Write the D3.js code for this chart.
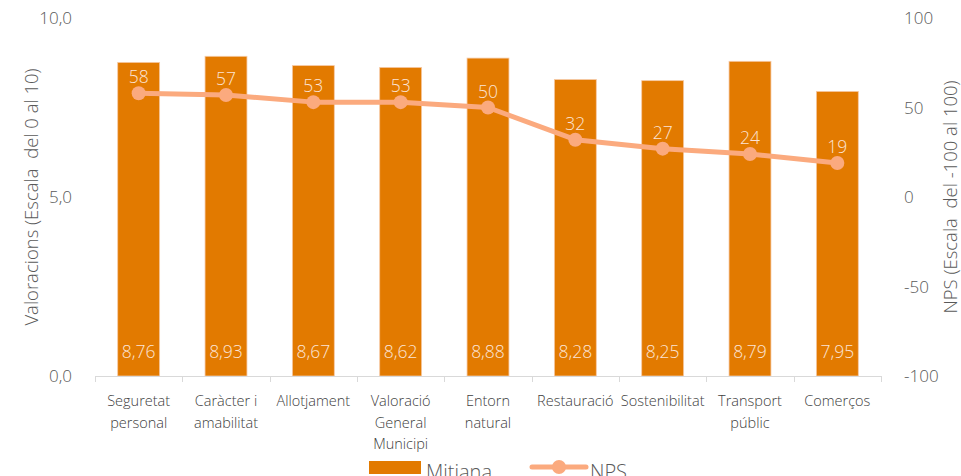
<!doctype html>
<html>
<head>
<meta charset="utf-8">
<script src="https://cdnjs.cloudflare.com/ajax/libs/d3/7.8.5/d3.min.js"></script>
<style>
  body { margin: 0; background: #fff; }
  svg { font-family: "Open Sans", "Noto Sans", sans-serif; font-weight: 300; }
</style>
</head>
<body>
<svg id="chart" width="961" height="476"></svg>
<script>
// data
var categories = [
  ["Seguretat", "personal"],
  ["Caràcter i", "amabilitat"],
  ["Allotjament"],
  ["Valoració", "General", "Municipi"],
  ["Entorn", "natural"],
  ["Restauració"],
  ["Sostenibilitat"],
  ["Transport", "públic"],
  ["Comerços"]
];
var mitjana = [8.76, 8.93, 8.67, 8.62, 8.88, 8.28, 8.25, 8.79, 7.95];
var nps = [58, 57, 53, 53, 50, 32, 27, 24, 19];
var leftTicks = [0, 5, 10];
var rightTicks = [-100, -50, 0, 50, 100];

var barColor = "#E27A00", lineColor = "#FBAA7E", labelColor = "#FCE4D6", textColor = "#595959";

var svg = d3.select("#chart");
var pL = 95, pR = 881, pT = 18, pB = 376;

var x = d3.scaleBand().domain(d3.range(categories.length)).range([pL, pR]).paddingInner(0.52).paddingOuter(0.26);
var yL = d3.scaleLinear().domain([0, 10]).range([pB, pT]);
var yR = d3.scaleLinear().domain([-100, 100]).range([pB, pT]);
var band = (pR - pL) / categories.length;
var cx = i => x(i) + x.bandwidth() / 2;

// bars
svg.selectAll("rect.bar").data(mitjana).enter().append("rect")
  .attr("class", "bar")
  .attr("x", (d, i) => x(i))
  .attr("width", x.bandwidth())
  .attr("y", d => yL(d))
  .attr("height", d => yL(0) - yL(d))
  .attr("fill", barColor)
  .attr("stroke", "#F6C9A4").attr("stroke-width", 0.8);

// bar value labels
svg.selectAll("text.barval").data(mitjana).enter().append("text")
  .attr("x", (d, i) => cx(i))
  .attr("y", yL(0) - 18)
  .attr("text-anchor", "middle")
  .attr("font-size", 17.5)
  .attr("fill", labelColor)
  .text(d => d.toFixed(2).replace(".", ","));

// x axis
svg.append("line").attr("x1", pL).attr("x2", pR).attr("y1", pB + 0.5).attr("y2", pB + 0.5)
  .attr("stroke", "#D9D9D9").attr("stroke-width", 1);
svg.selectAll("line.xt").data(d3.range(categories.length + 1)).enter().append("line")
  .attr("x1", i => Math.round(pL + i * band) + 0.5).attr("x2", i => Math.round(pL + i * band) + 0.5)
  .attr("y1", pB).attr("y2", pB + 6)
  .attr("stroke", "#D9D9D9");

var catLabels = svg.selectAll("text.cat").data(categories).enter().append("text")
  .attr("text-anchor", "middle")
  .attr("font-size", 14.5)
  .attr("fill", "#404040");
catLabels.each(function(lines, i) {
  var t = d3.select(this);
  lines.forEach(function(s, j) {
    t.append("tspan").attr("x", cx(i)).attr("y", 406 + j * 21.5).text(s);
  });
});

// left axis labels
svg.selectAll("text.lt").data(leftTicks).enter().append("text")
  .attr("x", 72).attr("y", d => yL(d) + 6)
  .attr("text-anchor", "end").attr("font-size", 17).attr("fill", textColor)
  .text(d => d.toFixed(1).replace(".", ","));

// right axis labels
svg.selectAll("text.rt").data(rightTicks).enter().append("text")
  .attr("x", 904).attr("y", d => yR(d) + 6)
  .attr("text-anchor", "start").attr("font-size", 17).attr("fill", textColor)
  .text(d => d);

// axis titles
svg.append("text").attr("transform", "translate(38," + ((pT + pB) / 2) + ") rotate(-90)")
  .attr("text-anchor", "middle").attr("font-size", 18.5).attr("fill", textColor)
  .attr("xml:space", "preserve")
  .text("Valoracions (Escala  del 0 al 10)");
svg.append("text").attr("transform", "translate(957," + ((pT + pB) / 2) + ") rotate(-90)")
  .attr("text-anchor", "middle").attr("font-size", 18.5).attr("fill", textColor)
  .attr("xml:space", "preserve")
  .text("NPS (Escala  del -100 al 100)");

// NPS line
var line = d3.line().x((d, i) => cx(i)).y(d => yR(d));
svg.append("path").datum(nps).attr("d", line)
  .attr("fill", "none").attr("stroke", lineColor).attr("stroke-width", 5).attr("stroke-linejoin", "round");
svg.selectAll("circle.pt").data(nps).enter().append("circle")
  .attr("cx", (d, i) => cx(i)).attr("cy", d => yR(d)).attr("r", 7)
  .attr("fill", lineColor);
svg.selectAll("text.npsval").data(nps).enter().append("text")
  .attr("x", (d, i) => cx(i)).attr("y", d => yR(d) - 10)
  .attr("text-anchor", "middle").attr("font-size", 17.5).attr("fill", labelColor)
  .text(d => d);

// legend
svg.append("rect").attr("x", 369).attr("y", 461).attr("width", 52).attr("height", 13).attr("fill", barColor);
svg.append("text").attr("x", 426).attr("y", 479).attr("font-size", 20).attr("fill", textColor).text("Mitjana");
svg.append("line").attr("x1", 532).attr("x2", 586).attr("y1", 467).attr("y2", 467)
  .attr("stroke", lineColor).attr("stroke-width", 5).attr("stroke-linecap", "round");
svg.append("circle").attr("cx", 559).attr("cy", 467).attr("r", 7).attr("fill", lineColor);
svg.append("text").attr("x", 590).attr("y", 479).attr("font-size", 20).attr("fill", textColor).text("NPS");
</script>
</body>
</html>
